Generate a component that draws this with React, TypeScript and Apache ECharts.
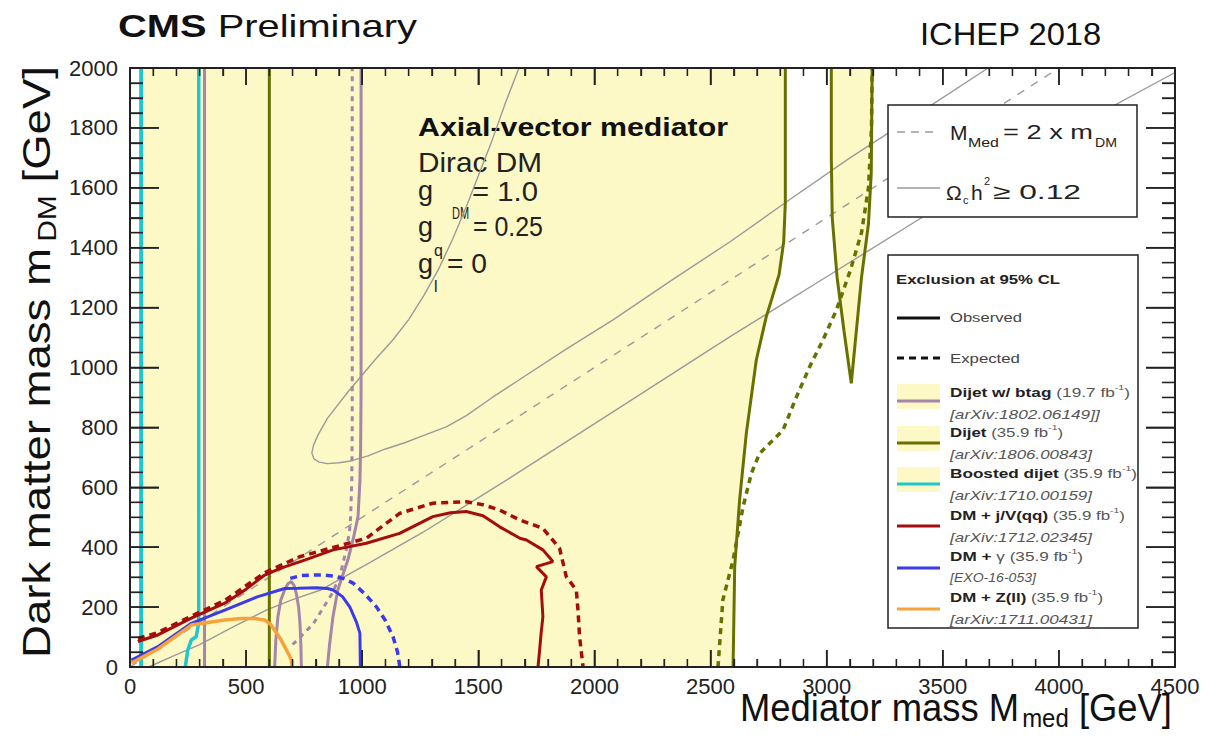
import React, { useEffect, useRef } from 'react';
import * as echarts from 'echarts';

const FONT = 'Liberation Sans, Arial, Helvetica, sans-serif';
const NARROW = 'Liberation Sans Narrow, Liberation Sans, Arial, sans-serif';

const YELLOW = '#fdf9c6';
const OLIVE = '#667100';
const MAUVE = '#a386a8';
const CYAN = '#1ec6cd';
const RED = '#a30d0d';
const BLUE = '#3b3bea';
const ORANGE = '#f5a33a';
const GRAY = '#9a9a9a';

// ---- axis ticks ----
const xMajor = [0, 500, 1000, 1500, 2000, 2500, 3000, 3500, 4000, 4500];
const yMajor = [0, 200, 400, 600, 800, 1000, 1200, 1400, 1600, 1800, 2000];

// ---- data (GeV) ----
const yellowMain: [number, number][] = [
  [50, 0], [2597, 0], [2604, 335], [2625, 557], [2654, 780], [2697, 1025], [2740, 1170],
  [2762, 1225], [2795, 1310], [2815, 1420], [2822, 1550], [2822, 2000], [50, 2000],
];
const dijetObs: [number, number][] = [
  [2597, 0], [2604, 335], [2625, 557], [2654, 780], [2697, 1025], [2740, 1170],
  [2762, 1225], [2795, 1310], [2815, 1420], [2822, 1550], [2822, 2000],
];
const dijetIsland: [number, number][] = [
  [3020, 2000], [3020, 1700], [3024, 1500], [3045, 1300], [3075, 1120], [3106, 947],
  [3125, 1100], [3150, 1300], [3180, 1480], [3192, 1650], [3196, 2000],
];
const dijetExp: [number, number][] = [
  [2532, 0], [2553, 224], [2597, 357], [2640, 535], [2676, 647], [2711, 713], [2755, 747],
  [2812, 791], [2870, 902], [2927, 1003], [2984, 1092], [3042, 1192], [3100, 1320],
  [3150, 1450], [3180, 1600], [3193, 1800], [3196, 2000],
];
const dijetLow: [number, number][] = [[600, 0], [600, 2000]];
const boostedLeft: [number, number][] = [[48, 0], [48, 2000]];
const boostedRight: [number, number][] = [[238, 0], [249, 57], [264, 90], [285, 101], [296, 147], [296, 2000]];
const btagLeft: [number, number][] = [[321, 0], [321, 2000]];
const btagRight: [number, number][] = [
  [850, 0], [860, 79], [874, 168], [895, 257], [915, 305], [938, 357], [962, 430], [982, 502],
  [990, 620], [993, 724], [995, 900], [995, 2000],
];
const btagBump: [number, number][] = [[623, 0], [628, 90], [637, 168], [650, 225], [666, 257], [680, 278], [695, 285], [707, 272], [716, 246], [726, 200], [732, 146], [736, 70], [738, 0]];
const btagExp: [number, number][] = [
  [700, 75], [740, 105], [790, 145], [830, 195], [870, 245], [903, 301], [931, 391],
  [945, 450], [950, 500], [955, 620], [957, 800], [957, 2000],
];
const monoJObs: [number, number][] = [
  [34, 85], [120, 107], [264, 163], [408, 213], [500, 260], [580, 307], [650, 330],
  [752, 357], [875, 391], [1018, 413], [1161, 446], [1304, 502], [1380, 515], [1448, 519], [1520, 505],
  [1592, 468], [1679, 430], [1707, 424], [1778, 391], [1821, 352], [1750, 335], [1793, 301],
  [1771, 257], [1778, 168], [1770, 110], [1764, 57], [1757, 0],
];
const monoJExp: [number, number][] = [
  [34, 95], [120, 115], [264, 170], [408, 222], [580, 315], [730, 368], [1018, 430],
  [1161, 513], [1304, 547], [1448, 552], [1520, 542], [1592, 524], [1678, 491], [1778, 463],
  [1850, 396], [1879, 301], [1922, 257], [1930, 180], [1936, 101], [1951, 0],
];
const monoPhObs: [number, number][] = [
  [6, 23], [120, 68], [264, 146], [408, 190], [551, 235], [666, 262], [723, 263], [804, 265],
  [850, 262], [875, 257], [915, 235], [947, 200], [975, 150], [990, 113], [992, 0],
];
const monoPhExp: [number, number][] = [
  [690, 296], [735, 305], [781, 307], [830, 307], [875, 304], [920, 295], [961, 280], [1010, 245],
  [1062, 200], [1100, 155], [1133, 100], [1152, 50], [1162, 0],
];
const monoZObs: [number, number][] = [
  [6, 13], [120, 60], [264, 140], [408, 157], [480, 162], [530, 162], [580, 157], [605, 143], [623, 123],
  [645, 98], [666, 68], [685, 40], [695, 23], [697, 0],
];
const relicUpper: [number, number][] = [
  [1675, 2000], [1615, 1880], [1560, 1760], [1505, 1650], [1450, 1540], [1390, 1430], [1330, 1330],
  [1265, 1240], [1200, 1160], [1130, 1090], [1060, 1030], [1000, 975], [940, 920], [890, 870],
  [850, 830], [810, 775], [790, 740], [783, 715], [792, 695], [815, 684], [850, 679],
  [900, 682], [950, 688], [1025, 705], [1100, 728], [1180, 748], [1260, 772], [1362, 802],
  [1450, 840], [1560, 900], [1678, 960], [1880, 1062], [2080, 1159], [2330, 1290], [2584, 1420],
  [2840, 1560], [3100, 1700], [3400, 1850], [3695, 2000],
];
const relicLower: [number, number][] = [
  [80, 0], [190, 38], [300, 75], [440, 132], [587, 190], [700, 225], [824, 258], [1040, 352],
  [1262, 450], [1440, 536], [1621, 624], [2100, 862], [2584, 1103], [3000, 1303],
  [3450, 1520], [4000, 1775], [4500, 1985],
];
const twoMassLine: [number, number][] = [[0, 0], [4000, 2000]];

// ---- text helpers ----
let _ctx: CanvasRenderingContext2D | null = null;
function measure(text: string, size: number, weight = 'normal', italic = false) {
  if (!_ctx) _ctx = document.createElement('canvas').getContext('2d');
  _ctx!.font = `${italic ? 'italic ' : ''}${weight} ${size}px Liberation Sans, Arial, sans-serif`;
  return _ctx!.measureText(text).width;
}
type Run = { t: string; s: number; b?: boolean; i?: boolean; dy?: number; dx?: number; c?: string };
function runsGroup(runs: Run[], x: number, y: number, opt: { w?: number; rot?: number; z?: number; color?: string } = {}) {
  let cx = 0;
  const z = opt.z ?? 100;
  const children: any[] = [];
  runs.forEach((r) => {
    const txt = r.t.replace(/^\s+/, '');
    const lead = r.t.length - txt.length;
    const wt = r.b ? 'bold' : 'normal';
    cx += (r.dx || 0) + lead * measure(' ', r.s, wt, r.i);
    children.push({
      type: 'text', x: cx, y: r.dy || 0, z,
      style: {
        text: txt, fontSize: r.s, fontWeight: wt, fontStyle: r.i ? 'italic' : 'normal',
        fontFamily: FONT, fill: r.c || opt.color || '#111', align: 'left', verticalAlign: 'middle',
      },
    });
    cx += measure(txt, r.s, wt, r.i);
  });
  const sx = opt.w ? opt.w / cx : 1;
  return { type: 'group', x, y, rotation: opt.rot || 0, scaleX: sx, z, children };
}

function lineSeries(data: [number, number][], color: string, width: number, type: any = 'solid', z = 4) {
  return { type: 'line', data, showSymbol: false, symbol: 'none', z, lineStyle: { color, width, type } };
}
function polySeries(pts: [number, number][], color: string) {
  return {
    type: 'custom', coordinateSystem: 'cartesian2d', clip: true, silent: true, z: 0,
    data: [pts[0]], encode: { x: 0, y: 1 },
    renderItem: (_p: any, api: any) => ({
      type: 'polygon', shape: { points: pts.map((p) => api.coord(p)) }, style: { fill: color, stroke: null },
    }),
  };
}
// ROOT-style inner ticks on all four sides, placed through the cartesian scales
function tickSeries() {
  return {
    type: 'custom', coordinateSystem: 'cartesian2d', clip: false, silent: true, z: 10,
    data: [[0, 0]], encode: { x: 0, y: 1 },
    renderItem: (_p: any, api: any) => {
      const children: any[] = [];
      const ln = (x1: number, y1: number, x2: number, y2: number, w: number) =>
        children.push({ type: 'line', shape: { x1, y1, x2, y2 }, style: { stroke: '#222', lineWidth: w } });
      const yMin = yMajor[0];
      const yMax = yMajor[yMajor.length - 1];
      const xMin = xMajor[0];
      const xMax = xMajor[xMajor.length - 1];
      xMajor.forEach((x, i) => {
        const b = api.coord([x, yMin]);
        const t = api.coord([x, yMax]);
        ln(b[0], b[1], b[0], b[1] - 17, 1.5);
        ln(t[0], t[1], t[0], t[1] + 17, 1.5);
        if (i < xMajor.length - 1) {
          for (let k = 1; k < 5; k++) {
            const xm = x + (k * (xMajor[i + 1] - x)) / 5;
            const bm = api.coord([xm, yMin]);
            const tm = api.coord([xm, yMax]);
            ln(bm[0], bm[1], bm[0], bm[1] - 8, 1.3);
            ln(tm[0], tm[1], tm[0], tm[1] + 8, 1.3);
          }
        }
      });
      yMajor.forEach((y, i) => {
        const l = api.coord([xMin, y]);
        const r = api.coord([xMax, y]);
        ln(l[0], l[1], l[0] + 29, l[1], 1.5);
        ln(r[0], r[1], r[0] - 29, r[1], 1.5);
        if (i < yMajor.length - 1) {
          for (let k = 1; k < 4; k++) {
            const ym = y + (k * (yMajor[i + 1] - y)) / 4;
            const lm = api.coord([xMin, ym]);
            const rm = api.coord([xMax, ym]);
            ln(lm[0], lm[1], lm[0] + 13, lm[1], 1.3);
            ln(rm[0], rm[1], rm[0] - 13, rm[1], 1.3);
          }
        }
      });
      return { type: 'group', children };
    },
  };
}

const tc = '#222';
const xAxisOf = (pos: string, labels: boolean) => ({
  type: 'value', min: 0, max: 4500, interval: 500, position: pos, z: 10,
  axisLine: { show: true, onZero: false, lineStyle: { color: tc, width: 2 } },
  axisTick: { show: true, inside: true, length: 17, lineStyle: { color: tc, width: 1.5 } },
  minorTick: { show: true, splitNumber: 5, length: 8, lineStyle: { color: tc, width: 1.3 } },
  splitLine: { show: false },
  axisLabel: labels
    ? { show: true, fontSize: 22, fontFamily: NARROW, color: '#222', margin: 8, formatter: (v: number) => String(v) }
    : { show: false },
});
const yAxisOf = (pos: string, labels: boolean) => ({
  type: 'value', min: 0, max: 2000, interval: 200, position: pos, z: 10,
  axisLine: { show: true, onZero: false, lineStyle: { color: tc, width: 2 } },
  axisTick: { show: true, inside: true, length: 29, lineStyle: { color: tc, width: 1.5 } },
  minorTick: { show: true, splitNumber: 4, length: 13, lineStyle: { color: tc, width: 1.3 } },
  splitLine: { show: false },
  axisLabel: labels
    ? { show: true, fontSize: 22, fontFamily: FONT, color: '#222', margin: 12, formatter: (v: number) => String(v) }
    : { show: false },
});

export default function App() {
  const el = useRef<HTMLDivElement>(null);
  useEffect(() => {
    document.body.style.margin = '0';
    const chart = echarts.init(el.current!, null, { renderer: 'svg' });

    const legendRows = [
      { c: MAUVE, rect: true, y1: 392, y2: 414, ly: 401, l1: [{ t: 'Dijet w/ btag', b: true }, { t: ' (19.7 fb' }, { t: '-1', sup: true }, { t: ')' }], w1: 180, l2: '[arXiv:1802.06149]]', w2: 150 },
      { c: OLIVE, rect: true, y1: 432, y2: 454, ly: 443, l1: [{ t: 'Dijet', b: true }, { t: ' (35.9 fb' }, { t: '-1', sup: true }, { t: ')' }], w1: 113, l2: '[arXiv:1806.00843]', w2: 142 },
      { c: CYAN, rect: true, y1: 473, y2: 495, ly: 484, l1: [{ t: 'Boosted dijet', b: true }, { t: ' (35.9 fb' }, { t: '-1', sup: true }, { t: ')' }], w1: 187, l2: '[arXiv:1710.00159]', w2: 142 },
      { c: RED, rect: false, y1: 515, y2: 537, ly: 526, l1: [{ t: 'DM + j/V(qq)', b: true }, { t: ' (35.9 fb' }, { t: '-1', sup: true }, { t: ')' }], w1: 175, l2: '[arXiv:1712.02345]', w2: 142 },
      { c: BLUE, rect: false, y1: 556, y2: 578, ly: 568, l1: [{ t: 'DM +', b: true }, { t: ' \u03b3 (35.9 fb' }, { t: '-1', sup: true }, { t: ')' }], w1: 133, l2: '[EXO-16-053]', w2: 86 },
      { c: ORANGE, rect: false, y1: 597, y2: 619, ly: 609, l1: [{ t: 'DM + Z(ll)', b: true }, { t: ' (35.9 fb' }, { t: '-1', sup: true }, { t: ')' }], w1: 153, l2: '[arXiv:1711.00431]', w2: 142 },
    ];

    const graphics: any[] = [
      runsGroup([{ t: 'CMS', s: 32, b: true }, { t: ' Preliminary', s: 32 }], 118, 26, { w: 299, color: '#111' }),
      runsGroup([{ t: 'ICHEP 2018', s: 31 }], 920, 34, { w: 182, color: '#111' }),
      runsGroup([{ t: 'Axial-vector mediator', s: 25, b: true }], 418, 127, { w: 310, z: 2 }),
      runsGroup([{ t: 'Dirac DM', s: 27 }], 418, 162, { w: 124, z: 2, color: '#222' }),
      runsGroup([{ t: 'g', s: 27 }], 418, 191, { z: 2, color: '#222' }),
      runsGroup([{ t: 'DM', s: 16 }], 452, 214, { w: 17, z: 2, color: '#222' }),
      runsGroup([{ t: '= 1.0', s: 27 }], 472, 191, { w: 66, z: 2, color: '#222' }),
      runsGroup([{ t: 'g', s: 27 }], 418, 227, { z: 2, color: '#222' }),
      runsGroup([{ t: 'q', s: 16 }], 434, 250, { z: 2, color: '#222' }),
      runsGroup([{ t: '= 0.25', s: 27 }], 473, 227, { w: 70, z: 2, color: '#222' }),
      runsGroup([{ t: 'g', s: 27 }], 418, 264, { z: 2, color: '#222' }),
      runsGroup([{ t: 'l', s: 16 }], 434, 286, { z: 2, color: '#222' }),
      runsGroup([{ t: '= 0', s: 27 }], 447, 264, { w: 40, z: 2, color: '#222' }),
      runsGroup([{ t: 'Mediator mass M', s: 38 }, { t: 'med', s: 25, dy: 10, dx: 3 }, { t: ' [GeV]', s: 38 }], 740, 708, { w: 432, color: '#111' }),
      runsGroup([{ t: 'Dark matter mass m', s: 38 }, { t: 'DM', s: 25, dy: 10, dx: 5 }, { t: ' [GeV]', s: 38 }], 37, 658, { w: 592, rot: Math.PI / 2, color: '#111' }),
      { type: 'rect', z: 100, shape: { x: 888, y: 105, width: 249, height: 112 }, style: { fill: '#fff', stroke: '#222', lineWidth: 1.5 } },
      { type: 'line', z: 101, shape: { x1: 897, y1: 132, x2: 934, y2: 132 }, style: { stroke: GRAY, lineWidth: 1.5, lineDash: [8, 6] } },
      runsGroup([{ t: 'M', s: 21 }], 950, 132, { color: '#222' }),
      runsGroup([{ t: 'Med', s: 12 }], 968, 143, { w: 31, color: '#222' }),
      runsGroup([{ t: '= 2 x m', s: 21 }], 1003, 132, { w: 90, color: '#222' }),
      runsGroup([{ t: 'DM', s: 12 }], 1095, 143, { w: 22, color: '#222' }),
      { type: 'line', z: 101, shape: { x1: 897, y1: 188, x2: 940, y2: 188 }, style: { stroke: GRAY, lineWidth: 1.3 } },
      runsGroup([{ t: '\u03a9', s: 21 }], 946, 192, { color: '#222' }),
      runsGroup([{ t: 'c', s: 11 }], 963, 200, { color: '#222' }),
      runsGroup([{ t: 'h', s: 21 }], 971, 192, { color: '#222' }),
      runsGroup([{ t: '2', s: 11 }], 984, 181, { color: '#222' }),
      runsGroup([{ t: '\u2265 0.12', s: 21 }], 993, 192, { w: 88, color: '#222' }),
      { type: 'rect', z: 100, shape: { x: 888, y: 255, width: 250, height: 373 }, style: { fill: '#fff', stroke: '#222', lineWidth: 1.5 } },
      runsGroup([{ t: 'Exclusion at 95% CL', s: 13, b: true }], 896, 279, { w: 164, color: '#222' }),
      { type: 'line', z: 101, shape: { x1: 897, y1: 318, x2: 940, y2: 318 }, style: { stroke: '#111', lineWidth: 3 } },
      runsGroup([{ t: 'Observed', s: 13 }], 950, 318, { w: 72, color: '#444' }),
      { type: 'line', z: 101, shape: { x1: 897, y1: 358, x2: 940, y2: 358 }, style: { stroke: '#111', lineWidth: 3, lineDash: [7, 5] } },
      runsGroup([{ t: 'Expected', s: 13 }], 950, 358, { w: 70, color: '#444' }),
    ];
    legendRows.forEach((r) => {
      if (r.rect) {
        graphics.push({ type: 'rect', z: 101, shape: { x: 897, y: r.ly - 17, width: 43, height: 25 }, style: { fill: YELLOW } });
      }
      graphics.push({ type: 'line', z: 102, shape: { x1: 897, y1: r.ly, x2: 940, y2: r.ly }, style: { stroke: r.c, lineWidth: 3 } });
      const runs: Run[] = r.l1.map((p: any) => (p.sup ? { t: p.t, s: 8, dy: -5, c: '#555' } : { t: p.t, s: 13, b: !!p.b, c: p.b ? '#222' : '#555' }));
      graphics.push(runsGroup(runs, 950, r.y1, { w: r.w1 }));
      graphics.push(runsGroup([{ t: r.l2, s: 13, i: true, c: '#555' }], 950, r.y2, { w: r.w2 }));
    });

    chart.setOption({
      animation: false,
      grid: { left: 130, right: 45, top: 68, bottom: 72 },
      xAxis: [xAxisOf('bottom', true), xAxisOf('top', false)],
      yAxis: [yAxisOf('left', true), yAxisOf('right', false)],
      series: [
        polySeries(yellowMain, YELLOW),
        polySeries(dijetIsland, YELLOW),
        lineSeries(twoMassLine, GRAY, 1.4, [8, 8], 3),
        lineSeries(relicUpper, GRAY, 1.4, 'solid', 3),
        lineSeries(relicLower, GRAY, 1.4, 'solid', 3),
        lineSeries(dijetLow, OLIVE, 3),
        lineSeries(dijetObs, OLIVE, 3),
        lineSeries(dijetIsland, OLIVE, 3),
        lineSeries(dijetExp, OLIVE, 3.5, [6, 5]),
        lineSeries(boostedLeft, CYAN, 4),
        lineSeries(boostedRight, CYAN, 3.5),
        lineSeries(btagLeft, MAUVE, 3),
        lineSeries(btagRight, MAUVE, 3),
        lineSeries(btagBump, MAUVE, 3),
        lineSeries(btagExp, MAUVE, 3, [5, 5]),
        lineSeries(monoJObs, RED, 3),
        lineSeries(monoJExp, RED, 3.5, [7, 5]),
        lineSeries(monoPhObs, BLUE, 3),
        lineSeries(monoPhExp, BLUE, 3.5, [7, 5]),
        lineSeries(monoZObs, ORANGE, 3.5),
        tickSeries(),
      ],
      graphic: graphics,
    });
    return () => chart.dispose();
  }, []);
  return <div ref={el} style={{ width: 1220, height: 739 }} />;
}
